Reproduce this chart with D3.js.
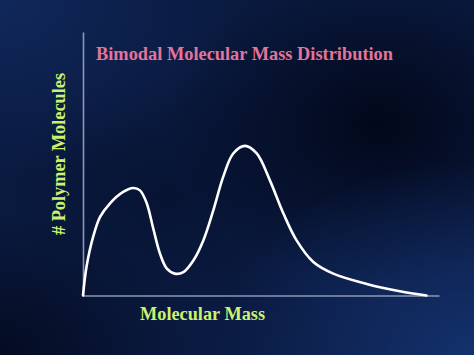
<!DOCTYPE html>
<html>
<head>
<meta charset="utf-8">
<script src="https://cdn.jsdelivr.net/npm/d3@7"></script>
<style>
  html, body { margin: 0; padding: 0; background: #091838; }
  svg { display: block; }
</style>
</head>
<body>
<svg id="chart" width="474" height="355"></svg>
<script>
// ---- Data (arbitrary units) ----
const massValues = [0, 1.0, 2.9, 4.8, 7.6, 11.3, 14.1, 16.0, 17.9, 19.7, 21.6, 23.5, 25.8, 28.2, 31.0, 33.8, 36.6, 39.4, 42.2, 45.5, 48.8, 52.5, 56.3, 60.0, 64.7, 70.3, 79.7, 89.0, 96.5];
const moleculeCounts = [0, 11.0, 22.5, 29.8, 35.0, 39.3, 40.8, 39.9, 35.0, 25.6, 16.0, 10.3, 8.3, 8.9, 13.3, 20.9, 32.3, 45.1, 53.9, 56.8, 53.9, 43.7, 31.1, 20.9, 12.7, 8.3, 4.4, 1.6, 0];
const titleText = "Bimodal Molecular Mass Distribution";
const xLabelText = "Molecular Mass";
const yLabelText = "# Polymer Molecules";

const W = 474, H = 355;
const svg = d3.select("#chart");

// ---- Background ----
const defs = svg.append("defs");
function radial(id, cx, cy, r, color, op) {
  const g = defs.append("radialGradient").attr("id", id)
    .attr("cx", cx).attr("cy", cy).attr("r", r);
  g.append("stop").attr("offset", "0%").attr("stop-color", color).attr("stop-opacity", op);
  g.append("stop").attr("offset", "100%").attr("stop-color", color).attr("stop-opacity", 0);
}
radial("dk1", "80%", "35%", "45%", "#02081a", 1);
radial("dk2", "0%", "100%", "40%", "#030a1e", 0.9);
radial("dk3", "35%", "55%", "35%", "#050f2a", 0.6);
radial("lt1", "0%", "0%", "50%", "#122c62", 0.75);
radial("lt2", "100%", "100%", "55%", "#153472", 0.9);

svg.append("rect").attr("width", W).attr("height", H).attr("fill", "#0a1a40");
["dk3", "dk1", "dk2", "lt1", "lt2"].forEach(id =>
  svg.append("rect").attr("width", W).attr("height", H).attr("fill", `url(#${id})`));

// ---- Scales ----
const x = d3.scaleLinear().domain([0, 100]).range([83, 439]);
const y = d3.scaleLinear().domain([0, 100]).range([295.5, 32]);

// ---- Axes (domain lines only) ----
const axisColor = "#8d97b5";
svg.append("g").attr("transform", `translate(0,${y(0)})`)
  .call(d3.axisBottom(x).tickValues([]).tickSizeOuter(0));
svg.append("g").attr("transform", `translate(${x(0)},0)`)
  .call(d3.axisLeft(y).tickValues([]).tickSizeOuter(0));
svg.selectAll(".domain").attr("stroke", axisColor).attr("stroke-width", 1.6);

// ---- Curve ----
const data = massValues.map((m, i) => ({ m, c: moleculeCounts[i] }));
const line = d3.line().x(d => x(d.m)).y(d => y(d.c)).curve(d3.curveCatmullRom.alpha(0.5));
svg.append("path").datum(data)
  .attr("d", line)
  .attr("fill", "none")
  .attr("stroke", "#ffffff")
  .attr("stroke-width", 2.6)
  .attr("stroke-linecap", "round")
  .attr("stroke-linejoin", "round");

// ---- Text ----
const fontFam = "'Liberation Serif', 'Times New Roman', serif";
function addText(content, transform, width, size, color) {
  return svg.append("text")
    .attr("transform", transform)
    .attr("font-family", fontFam).attr("font-weight", "bold")
    .attr("font-size", size)
    .attr("textLength", width)
    .attr("lengthAdjust", "spacingAndGlyphs")
    .attr("fill", color)
    .text(content);
}
addText(titleText, "translate(96,60)", 297, 19.5, "#e3749b");
addText(xLabelText, "translate(140,320)", 125, 19.5, "#cdf16d");
addText(yLabelText, "translate(64.5,235) rotate(-90)", 162, 19.5, "#cdf16d");
</script>
</body>
</html>
